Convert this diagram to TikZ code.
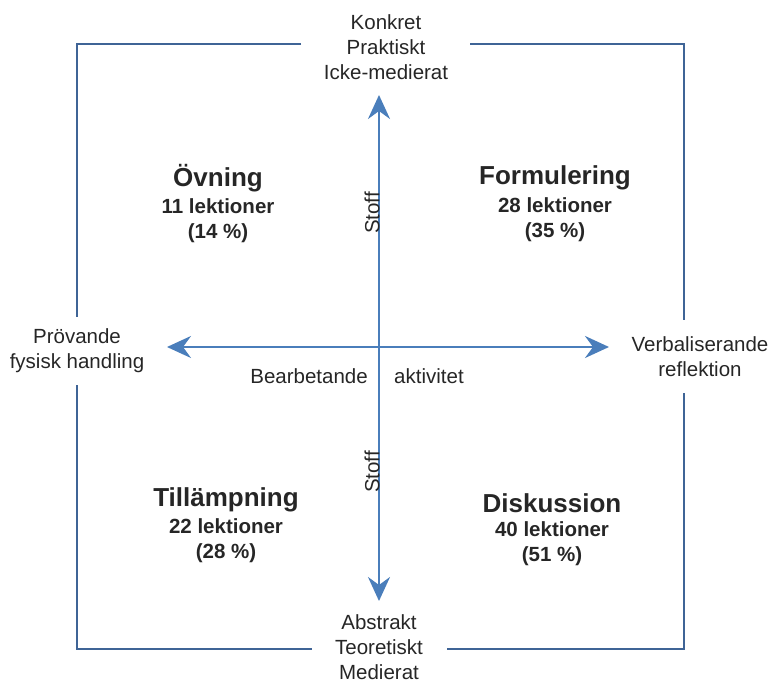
\documentclass[tikz,border=0pt]{standalone}
\usepackage{fontspec}
\setmainfont{Liberation Sans}
\usetikzlibrary{arrows.meta}
\definecolor{framecol}{HTML}{3F6496}
\definecolor{axiscol}{HTML}{4A7EBB}
\definecolor{txtcol}{HTML}{262626}
\tikzset{
  framepart/.style={draw=framecol, line width=2pt},
  axis/.style={draw=axiscol, line width=2.4pt,
    -{Stealth[length=24pt, width=22pt, inset=8pt]}},
  lbl/.style={text=txtcol, font=\fontsize{20.5}{25}\selectfont, align=center, inner sep=0pt},
  ttl/.style={text=txtcol, font=\fontsize{26}{30}\selectfont\bfseries, inner sep=0pt},
  sub/.style={text=txtcol, font=\fontsize{20.5}{25}\selectfont\bfseries, align=center, inner sep=0pt},
}
\begin{document}
\begin{tikzpicture}[x=1pt, y=-1pt]
\useasboundingbox (0,0) rectangle (773,684);

% outer frame, open where the pole labels sit
\coordinate (tl) at (77,44);
\coordinate (tr) at (684,44);
\coordinate (bl) at (77,649);
\coordinate (br) at (684,649);
\draw[framepart] (301,44) -- (tl) -- (77,317);
\draw[framepart] (470,44) -- (tr) -- (684,320);
\draw[framepart] (77,385) -- (bl) -- (312,649);
\draw[framepart] (684,393) -- (br) -- (447,649);

% centre and axis ends
\coordinate (c) at (379,347);
\coordinate (up) at (379,95);
\coordinate (down) at (379,601);
\coordinate (left) at (167,347);
\coordinate (right) at (609,347);
\draw[axis] (c) -- (up);
\draw[axis] (c) -- (down);
\draw[axis] (c) -- (left);
\draw[axis] (c) -- (right);

% pole labels
\node[lbl] (top) at (386,47) {Konkret\\Praktiskt\\Icke-medierat};
\node[lbl] (bottom) at (379,647) {Abstrakt\\Teoretiskt\\Medierat};
\node[lbl] (west) at (77,351) {Prövande\\fysisk handling};
\node[lbl] (east) at (700,357) {Verbaliserande\\reflektion};
\node[lbl, anchor=east] (bearb) at (368,376) {Bearbetande};
\node[lbl, anchor=west] (akt) at (394,376) {aktivitet};
\node[lbl, rotate=90] (stoffa) at (372,213) {Stoff};
\node[lbl, rotate=90] (stoffb) at (372,472) {Stoff};

% quadrants
\node[ttl] (ov) at (218,178) {Övning};
\node[sub] (ovs) at (218,221) {11 lektioner\\(14 \%)};
\node[ttl] (fo) at (555,178) {Formulering};
\node[sub] (fos) at (555,220) {28 lektioner\\(35 \%)};
\node[ttl] (ti) at (226,500) {Tillämpning};
\node[sub] (tis) at (226,541) {22 lektioner\\(28 \%)};
\node[ttl] (di) at (552,503) {Diskussion};
\node[sub] (dis) at (552,544) {40 lektioner\\(51 \%)};
\end{tikzpicture}
\end{document}
